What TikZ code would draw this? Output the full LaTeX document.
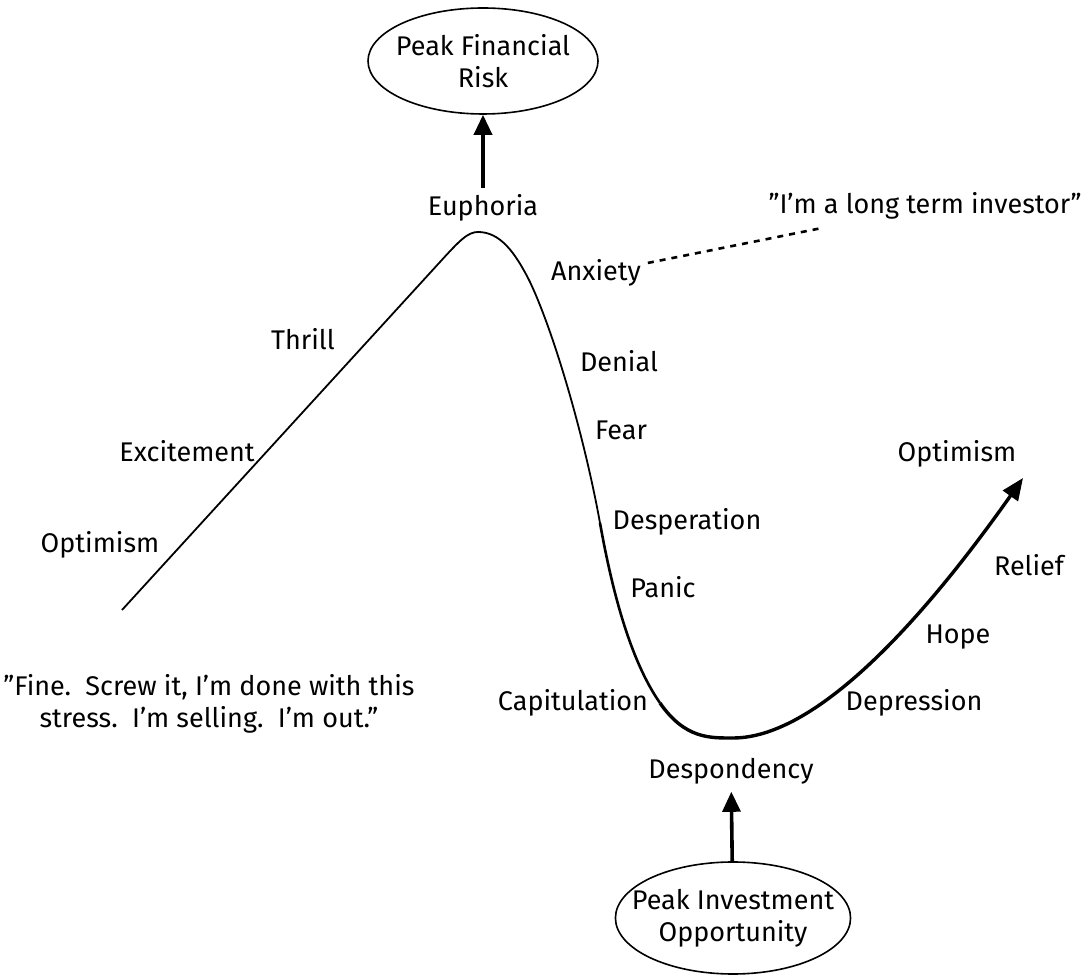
\documentclass[tikz,border=0pt]{standalone}
\usepackage{fontspec}
\setmainfont{Fira Sans}
\usetikzlibrary{shapes.geometric,arrows.meta}

\begin{document}
\begin{tikzpicture}[x=0.5pt,y=-0.5pt,
  every node/.style={font=\fontsize{13.5}{16}\selectfont},
  phase/.style={anchor=base},
  peak/.style={draw,ellipse,line width=0.8pt,align=center,inner ysep=0pt,inner xsep=-9pt},
  pointer/.style={line width=1.8pt,-{Triangle[length=10pt,width=9pt]}}]
\useasboundingbox (0,0) rectangle (1087,977);
% the two extremes
\node[peak,minimum width=115pt,minimum height=53pt] (riskpeak) at (483,61) {Peak Financial\\Risk};
\node[peak,minimum width=117pt,minimum height=56pt] (oppPeak) at (733,918) {Peak Investment\\Opportunity};
% emotions along the cycle
\node[phase] (euphoria) at (483,216) {Euphoria};
\node[phase] (anxiety) at (596,281) {Anxiety};
\node[phase] (investor) at (925,214) {”I’m a long term investor”};
\node[phase] (thrill) at (303,350) {Thrill};
\node[phase] (denial) at (619,372) {Denial};
\node[phase] (excitement) at (187,462) {Excitement};
\node[phase] (fear) at (621,440) {Fear};
\node[phase] (optimismB) at (957,462) {Optimism};
\node[phase] (optimismA) at (100,553) {Optimism};
\node[phase] (desperation) at (687,530) {Desperation};
\node[phase] (relief) at (1029,576) {Relief};
\node[phase] (panic) at (663,598) {Panic};
\node[phase] (hope) at (958,644) {Hope};
\node[phase] (capitulation) at (573,711) {Capitulation};
\node[phase] (depression) at (914,711) {Depression};
\node[phase] (despondency) at (731,779) {Despondency};
\node[align=center] (quote) at (209,704) {”Fine.\ \ Screw it, I’m done with this\\stress.\ \ I’m selling.\ \ I’m out.”};
\coordinate (investorEnd) at (822,228);
% the cycle itself
\draw[line width=0.9pt] (122,610) -- (440,262) .. controls (460,240) and (468,232) .. (478,232)
  .. controls (500,232) and (515,252) .. (530,282) .. controls (555,335) and (585,440) .. (600,523);
\draw[line width=1.3pt] (600,523) .. controls (612,590) and (630,660) .. (660,703);
\draw[line width=1.7pt,-{Triangle[length=11pt,width=9pt]}] (660,703) .. controls (685,739) and (710,738) .. (733,738)
  .. controls (820,738) and (930,610) .. (1023,478);
% pointers
\draw[pointer] (euphoria) -- (riskpeak);
\draw[pointer] (oppPeak) -- (despondency);
\draw[line width=1.3pt,dash pattern=on 3pt off 3pt] (anxiety) -- (investorEnd);
\end{tikzpicture}
\end{document}
